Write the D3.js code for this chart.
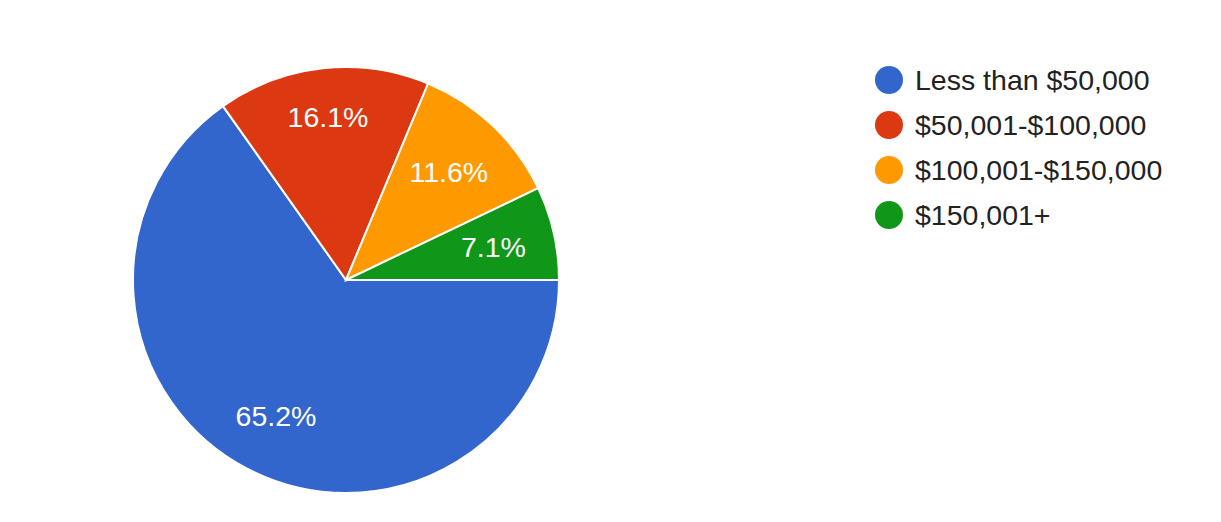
<!DOCTYPE html>
<html><head><meta charset="utf-8">
<script src="https://cdn.jsdelivr.net/npm/d3@7"></script>
<style>body{margin:0;background:#fff;}svg{display:block;font-family:"Liberation Sans",Arial,sans-serif;}</style>
</head><body>
<svg id="c" width="1221" height="522"></svg>
<script>
const categories = ["Less than $50,000", "$50,001-$100,000", "$100,001-$150,000", "$150,001+"];
const values = [65.2, 16.1, 11.6, 7.1];
const colors = ["#3366cc", "#dc3912", "#ff9900", "#109618"];

const svg = d3.select("#c");
const cx = 346, cy = 280, R = 213;
const pie = d3.pie().sort(null).value(d => d.v).startAngle(Math.PI/2).endAngle(Math.PI/2 + 2*Math.PI);
const data = categories.map((c,i)=>({c, v: values[i], col: colors[i]}));
const arcs = pie(data);
const arc = d3.arc().innerRadius(0).outerRadius(R);
const g = svg.append("g").attr("transform", `translate(${cx},${cy})`);
g.selectAll("path").data(arcs).join("path")
  .attr("d", arc).attr("fill", d=>d.data.col)
  .attr("stroke", "#fff").attr("stroke-width", 2);
const lr = [0.715, 0.77, 0.70, 0.71];
g.selectAll("text").data(arcs).join("text")
  .attr("transform", (d,i)=>{ const a=(d.startAngle+d.endAngle)/2, r=R*lr[i]; return `translate(${Math.sin(a)*r},${-Math.cos(a)*r})`; })
  .attr("dy", "0.36em").attr("text-anchor", "middle")
  .attr("fill", "#fff").attr("font-size", 28.5)
  .text(d => d.data.v.toFixed(1) + "%");

const y = d3.scalePoint().domain(categories).range([80, 215]);
const lg = svg.append("g");
const item = lg.selectAll("g").data(data).join("g").attr("transform", d=>`translate(0,${y(d.c)})`);
item.append("circle").attr("cx", 889).attr("cy", 0).attr("r", 14).attr("fill", d=>d.col);
item.append("text").attr("x", 915).attr("y", 0).attr("dy", "0.36em")
  .attr("font-size", 28.5).attr("fill", "#222").text(d=>d.c);
</script>
</body></html>
